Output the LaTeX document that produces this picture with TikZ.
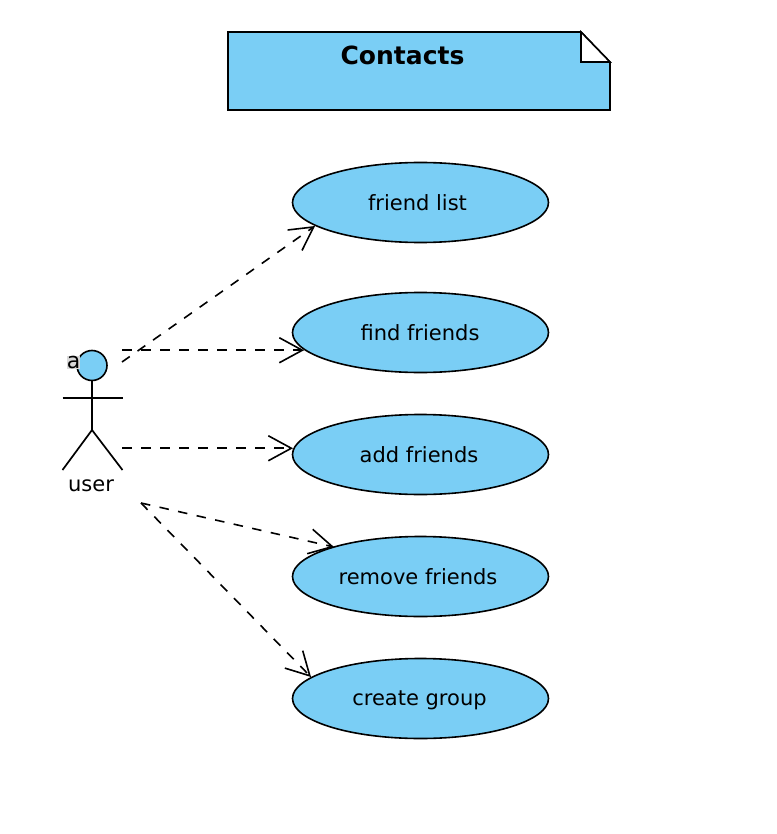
\documentclass[tikz,border=0pt]{standalone}
\usepackage{fontspec}
\setmainfont{DejaVu Sans}
\usetikzlibrary{arrows.meta,shapes.geometric}
\definecolor{ucblue}{HTML}{7ACEF5}
\tikzset{
  usecase/.style={ellipse,draw=black,fill=ucblue,line width=1.6pt,minimum width=256pt,minimum height=80pt,inner sep=0pt},
  uctext/.style={font=\fontsize{21}{24}\selectfont,text=black,inner sep=0pt},
  depend/.style={draw=black,line width=1.6pt,dash pattern=on 9.5pt off 9.5pt,-{Straight Barb[length=23pt,width=25pt,line width=1.6pt]}},
  limb/.style={draw=black,line width=1.7pt},
}
\begin{document}
\begin{tikzpicture}[x=1pt,y=-1pt]
\useasboundingbox (0,0) rectangle (776,834);
% note
\path[fill=ucblue,draw=black,line width=1.6pt,line join=miter] (228,32) -- (581,32) -- (610,62) -- (610,110) -- (228,110) -- cycle;
\path[fill=white,draw=black,line width=1.6pt] (581,32) -- (610,62) -- (581,62) -- cycle;
\node[font=\bfseries\fontsize{25}{28}\selectfont,inner sep=0pt] (title) at (402.5,55) {Contacts};
% use cases
\node[usecase,label={[uctext,xshift=-3pt]center:friend list}] (u1) at (420.5,202.5) {};
\node[usecase,label={[uctext,xshift=-0.5pt]center:find friends}] (u2) at (420.5,332.5) {};
\node[usecase,label={[uctext,xshift=-1.5pt]center:add friends}] (u3) at (420.5,454.5) {};
\node[usecase,label={[uctext,xshift=-2.5pt]center:remove friends}] (u4) at (420.5,576.5) {};
\node[usecase,label={[uctext,xshift=-1pt,yshift=-1.5pt]center:create group}] (u5) at (420.5,698.5) {};
% actor
\node[circle,draw=black,fill=ucblue,line width=1.6pt,minimum size=30pt,inner sep=0pt] (head) at (92,365.5) {};
\node[font=\fontsize{22}{24}\selectfont,fill=white!85!black,inner sep=0pt] (amark) at (73.5,362.5) {a};
\coordinate (neck) at (92,380.5);
\coordinate (hip) at (92,430);
\coordinate (armL) at (62.5,398);
\coordinate (armR) at (122.5,398);
\coordinate (footL) at (62.5,470);
\coordinate (footR) at (122.5,470);
\draw[limb] (neck) -- (hip);
\draw[limb] (armL) -- (armR);
\draw[limb] (footL) -- (hip) -- (footR);
\node[uctext] (user) at (91,485.5) {user};
% connectors
\coordinate (s1) at (122,362);
\coordinate (s2) at (122,350.25);
\coordinate (s3) at (122,448.25);
\coordinate (s4) at (141,503);
\coordinate (t1) at (315,226);
\coordinate (t2) at (304,350.25);
\coordinate (t3) at (293,448.25);
\coordinate (t4) at (334,547);
\coordinate (t5) at (311,677);
\draw[depend] (s1) -- (t1);
\draw[depend] (s2) -- (t2);
\draw[depend] (s3) -- (t3);
\draw[depend] (s4) -- (t4);
\draw[depend] (s4) -- (t5);
\end{tikzpicture}
\end{document}
